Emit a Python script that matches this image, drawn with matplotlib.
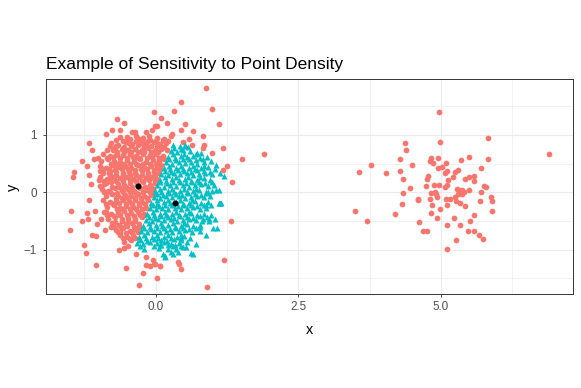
import matplotlib
matplotlib.use("Agg")
import matplotlib.pyplot as plt

plt.rcParams['font.family'] = ['Liberation Sans', 'DejaVu Sans']

# cluster 1 (red circles): dense blob on the left + the sparse group on the right
red_points = [
    # scattered points around the left blob
    (-0.04, 1.39), (0.09, 1.30), (-0.68, 1.27), (-0.56, 1.20), (-0.87, 1.02), (-0.76, 1.09),
    (-0.62, 1.09), (-0.51, 0.96), (-0.41, 1.05), (-0.36, 1.04), (-1.17, 0.86), (-1.11, 0.73),
    (-1.02, 0.59), (-1.09, 0.57), (-1.29, 0.54), (-1.44, 0.36), (-1.46, 0.27), (-1.20, 0.45),
    (-1.17, 0.30), (-0.98, 0.37), (-1.14, 0.15), (-0.87, 0.16), (-0.97, 0.11), (-0.75, 0.74),
    (-0.69, 0.64), (-0.47, 0.86), (-0.30, 0.92), (-0.18, 1.05), (-0.07, 1.09), (-0.01, 1.15),
    (-0.21, 0.82), (-0.13, 0.89), (-0.59, 0.48), (-0.71, 0.45), (-0.82, 0.33), (-0.99, 0.22),
    (-0.39, 0.60),
    (-1.49, -0.32), (-1.50, -0.65), (-1.17, -0.14), (-1.20, -0.36), (-1.19, -0.47), (-1.30, -0.50),
    (-1.03, -0.55), (-1.11, -0.74), (-1.05, -0.76), (-1.26, -0.91), (-1.22, -1.06), (-1.04, -1.26),
    (-0.52, -1.32), (-0.29, -1.62), (-0.22, -1.41), (-0.18, -1.26), (-0.11, -1.28), (-0.03, -1.25),
    (0.08, -1.29), (-0.05, -1.17), (-0.34, -1.07), (-0.18, -1.12), (-0.65, -1.00), (-0.56, -0.97),
    (-0.49, -0.93), (-0.62, -0.69), (-0.78, -0.61), (-0.89, -0.65), (-0.96, -0.46), (-0.88, -0.34),
    (-1.06, -0.32), (-0.71, -0.51), (-0.53, -0.57), (-0.42, -0.69),
    (0.88, 1.81), (0.45, 1.57), (0.99, 1.45), (0.32, 1.41), (1.11, 1.19), (0.52, 1.19),
    (0.19, 1.21), (0.44, 1.08), (0.66, 1.07), (0.29, 1.02), (0.83, 0.97), (0.59, 0.92),
    (0.48, 0.88), (0.63, 0.82), (0.85, 0.82), (0.83, 0.77), (1.17, 0.77), (0.98, 0.68),
    (1.52, 0.58), (1.90, 0.67), (1.25, 0.45), (1.18, 0.38), (1.33, 0.18), (0.03, 1.15),
    (1.32, -0.50), (1.20, -1.17), (0.90, -1.64), (0.39, -1.21), (0.41, -1.25), (0.45, -1.33),
    (0.08, -1.28), (0.03, -1.49), (-0.01, -1.25),
    # dense core, left of the split
    (-0.62, 0.96), (-0.48, 0.93), (-0.35, 0.97), (-0.22, 0.94), (-0.12, 0.98), (0.02, 0.95), (0.14, 0.93), (0.26, 0.97),
    (-0.78, 0.86), (-0.66, 0.83), (-0.52, 0.87), (-0.41, 0.84), (-0.28, 0.86), (-0.17, 0.83), (-0.04, 0.87), (0.07, 0.84), (0.18, 0.86),
    (-0.85, 0.74), (-0.72, 0.77), (-0.60, 0.75), (-0.49, 0.73), (-0.37, 0.76), (-0.25, 0.74), (-0.14, 0.77), (-0.02, 0.73), (0.09, 0.76), (0.19, 0.74),
    (-0.92, 0.66), (-0.80, 0.63), (-0.68, 0.67), (-0.57, 0.64), (-0.46, 0.66), (-0.34, 0.63), (-0.22, 0.67), (-0.11, 0.64), (0.00, 0.66), (0.12, 0.63),
    (-0.96, 0.54), (-0.84, 0.57), (-0.73, 0.55), (-0.62, 0.53), (-0.50, 0.56), (-0.39, 0.54), (-0.28, 0.57), (-0.17, 0.53), (-0.05, 0.56), (0.06, 0.54), (0.14, 0.57),
    (-0.98, 0.46), (-0.88, 0.43), (-0.76, 0.47), (-0.65, 0.44), (-0.54, 0.46), (-0.43, 0.43), (-0.31, 0.47), (-0.20, 0.44), (-0.09, 0.46), (0.02, 0.43), (0.10, 0.47),
    (-0.93, 0.34), (-0.81, 0.37), (-0.70, 0.35), (-0.58, 0.33), (-0.47, 0.36), (-0.36, 0.34), (-0.25, 0.37), (-0.14, 0.33), (-0.03, 0.36), (0.06, 0.34),
    (-0.97, 0.26), (-0.86, 0.23), (-0.74, 0.27), (-0.63, 0.24), (-0.52, 0.26), (-0.40, 0.23), (-0.29, 0.27), (-0.18, 0.24), (-0.07, 0.26), (0.03, 0.23),
    (-0.90, 0.14), (-0.79, 0.17), (-0.67, 0.15), (-0.56, 0.13), (-0.45, 0.16), (-0.33, 0.14), (-0.22, 0.17), (-0.11, 0.13), (-0.01, 0.16),
    (-0.95, 0.06), (-0.83, 0.03), (-0.72, 0.07), (-0.60, 0.04), (-0.49, 0.06), (-0.38, 0.03), (-0.27, 0.07), (-0.15, 0.04), (-0.05, 0.06),
    (-0.88, -0.06), (-0.77, -0.03), (-0.66, -0.07), (-0.54, -0.04), (-0.43, -0.06), (-0.32, -0.03), (-0.20, -0.07), (-0.09, -0.04),
    (-0.92, -0.14), (-0.81, -0.17), (-0.69, -0.15), (-0.58, -0.13), (-0.47, -0.16), (-0.36, -0.14), (-0.24, -0.17), (-0.13, -0.13),
    (-0.86, -0.26), (-0.74, -0.23), (-0.63, -0.27), (-0.52, -0.24), (-0.40, -0.26), (-0.29, -0.23), (-0.17, -0.27),
    (-0.90, -0.34), (-0.78, -0.37), (-0.67, -0.35), (-0.55, -0.33), (-0.44, -0.36), (-0.32, -0.34), (-0.21, -0.37),
    (-0.83, -0.46), (-0.71, -0.43), (-0.60, -0.47), (-0.48, -0.44), (-0.37, -0.46), (-0.25, -0.43),
    (-0.76, -0.54), (-0.64, -0.57), (-0.53, -0.55), (-0.41, -0.53), (-0.30, -0.56),
    (-0.70, -0.66), (-0.58, -0.63), (-0.46, -0.67), (-0.35, -0.64),
    (-0.62, -0.74), (-0.50, -0.77), (-0.40, -0.75),
    (-0.55, -0.86), (-0.43, -0.83),
    (-0.68, 0.70), (-0.56, 0.70), (-0.44, 0.70), (-0.32, 0.70), (-0.20, 0.70), (-0.08, 0.70), (0.04, 0.70),
    (-0.78, 0.50), (-0.67, 0.50), (-0.56, 0.50), (-0.45, 0.50), (-0.34, 0.50), (-0.23, 0.50), (-0.11, 0.50), (0.00, 0.50),
    (-0.80, 0.30), (-0.69, 0.30), (-0.57, 0.30), (-0.46, 0.30), (-0.35, 0.30), (-0.24, 0.30), (-0.13, 0.30), (-0.02, 0.30),
    (-0.76, 0.10), (-0.64, 0.10), (-0.53, 0.10), (-0.42, 0.10), (-0.30, 0.10), (-0.19, 0.10), (-0.08, 0.10),
    (-0.70, -0.10), (-0.59, -0.10), (-0.48, -0.10), (-0.37, -0.10), (-0.26, -0.10), (-0.15, -0.10),
    (-0.68, -0.30), (-0.57, -0.30), (-0.46, -0.30), (-0.35, -0.30), (-0.24, -0.30),
    (-0.60, -0.50), (-0.48, -0.50), (-0.37, -0.50),
    (-0.70, 0.91), (-0.58, 0.89), (-0.46, 0.92), (-0.34, 0.90), (-0.23, 0.88), (-0.10, 0.91), (0.01, 0.89), (0.12, 0.91), (0.22, 0.90),
    (-0.80, 0.80), (-0.69, 0.81), (-0.55, 0.79), (-0.43, 0.80), (-0.31, 0.82), (-0.20, 0.79), (-0.08, 0.80), (0.03, 0.81), (0.14, 0.79),
    (-0.86, 0.60), (-0.75, 0.61), (-0.63, 0.59), (-0.51, 0.60), (-0.40, 0.61), (-0.29, 0.59), (-0.16, 0.60), (-0.06, 0.61), (0.06, 0.59),
    (-0.92, 0.40), (-0.82, 0.41), (-0.71, 0.39), (-0.60, 0.40), (-0.48, 0.41), (-0.37, 0.39), (-0.26, 0.40), (-0.15, 0.41), (-0.04, 0.39), (0.07, 0.40),
    (-0.91, 0.20), (-0.80, 0.21), (-0.69, 0.19), (-0.58, 0.20), (-0.46, 0.21), (-0.35, 0.19), (-0.24, 0.20), (-0.12, 0.21), (-0.02, 0.19),
    (-0.91, 0.00), (-0.80, 0.01), (-0.68, -0.01), (-0.57, 0.00), (-0.45, 0.01), (-0.34, -0.01), (-0.22, 0.00), (-0.11, 0.01), (-0.03, -0.01),
    (-0.87, -0.20), (-0.75, -0.21), (-0.64, -0.19), (-0.53, -0.20), (-0.41, -0.21), (-0.30, -0.19), (-0.19, -0.20),
    (-0.85, -0.40), (-0.74, -0.41), (-0.62, -0.39), (-0.50, -0.40), (-0.39, -0.41), (-0.28, -0.39), (-0.21, -0.40),
    (-0.73, -0.60), (-0.61, -0.61), (-0.50, -0.59), (-0.39, -0.60), (-0.29, -0.61),
    (-0.66, -0.70), (-0.53, -0.71), (-0.42, -0.69), (-0.32, -0.70),
    (-0.58, -0.80), (-0.46, -0.81), (-0.36, -0.79),
    # sparse group around x = 5
    (4.96, 1.39), (5.83, 0.95), (6.90, 0.66), (4.37, 0.86), (4.39, 0.74), (4.99, 0.87),
    (4.29, 0.58), (3.78, 0.47), (3.56, 0.36), (4.04, 0.34), (4.50, 0.47), (4.28, 0.37),
    (4.33, 0.23), (4.46, 0.08), (4.33, -0.02), (4.32, -0.21), (4.20, -0.37), (3.50, -0.32),
    (3.70, -0.50), (4.59, -0.12), (4.60, -0.13), (4.61, -0.52), (4.68, -0.68), (4.76, -0.67),
    (5.10, -0.99), (5.26, -0.83), (5.10, -0.57), (5.22, -0.45), (5.34, -0.57), (5.47, -0.68),
    (5.58, -0.68), (5.67, -0.74), (5.73, -0.81), (5.51, -0.50), (5.58, -0.39), (5.90, -0.33),
    (5.89, -0.15), (5.88, -0.09), (5.69, -0.16), (5.71, 0.00), (5.75, 0.11), (5.79, 0.10),
    (5.70, 0.43), (5.82, 0.58), (5.49, 0.62), (5.35, 0.56), (5.43, 0.23), (5.49, 0.26),
    (5.58, 0.29), (5.58, 0.19), (5.50, 0.04), (5.30, 0.39), (5.24, 0.36), (5.21, 0.26),
    (5.11, 0.37), (5.07, 0.34), (5.08, 0.51), (5.01, 0.44), (4.94, 0.42), (4.94, 0.59),
    (4.82, 0.59), (4.81, 0.55), (4.86, 0.51), (4.78, 0.28), (4.76, 0.23), (4.74, 0.11),
    (4.87, 0.12), (4.96, 0.12), (5.12, 0.21), (5.07, 0.10), (5.11, 0.12), (4.83, -0.01),
    (4.90, 0.01), (4.93, -0.08), (4.92, -0.03), (4.80, -0.12), (4.84, -0.23), (4.98, -0.30),
    (4.83, -0.36), (4.93, -0.44), (5.11, -0.22), (5.09, -0.12), (5.15, -0.11), (5.24, -0.09),
    (5.27, -0.15), (5.33, -0.18), (5.43, -0.24), (5.28, 0.05), (5.33, 0.01), (5.37, 0.04),
    (5.29, -0.03), (5.36, -0.03), (5.40, 0.01), (5.32, 0.04),
]

# cluster 2 (teal triangles): right half of the dense blob
teal_points = [
    (1.12, -0.18), (1.05, 0.04), (1.08, -0.62), (1.00, -0.62), (1.03, -0.46), (0.94, -0.46),
    (0.88, -0.75), (0.81, -0.50), (0.77, -0.60), (0.65, -1.07), (0.53, -0.95), (0.45, -0.80),
    (0.39, -1.04), (0.27, -1.04), (0.16, -1.11), (0.22, -0.91), (0.33, -0.91), (0.71, -0.90),
    (0.07, -0.91), (0.91, 0.01), (0.88, -0.22), (1.20, 0.29), (1.14, -0.18), (0.16, -1.13),
    (-0.27, -0.81), (0.52, 0.80), (0.79, 0.69), (1.05, 0.47), (1.11, 0.04),
    (0.30, 0.82), (0.42, 0.80), (0.52, 0.83),
    (0.26, 0.72), (0.37, 0.70), (0.48, 0.73), (0.60, 0.71), (0.72, 0.69),
    (0.22, 0.62), (0.33, 0.60), (0.44, 0.63), (0.55, 0.61), (0.66, 0.63), (0.78, 0.60), (0.90, 0.62),
    (0.18, 0.52), (0.29, 0.50), (0.40, 0.53), (0.51, 0.51), (0.62, 0.53), (0.73, 0.50), (0.85, 0.52), (0.96, 0.54),
    (0.14, 0.42), (0.25, 0.40), (0.36, 0.43), (0.47, 0.41), (0.58, 0.43), (0.69, 0.40), (0.80, 0.42), (0.92, 0.44), (1.03, 0.41),
    (0.10, 0.32), (0.21, 0.30), (0.32, 0.33), (0.43, 0.31), (0.54, 0.33), (0.65, 0.30), (0.76, 0.32), (0.87, 0.34), (0.98, 0.31), (1.12, 0.33),
    (0.07, 0.22), (0.18, 0.20), (0.29, 0.23), (0.40, 0.21), (0.51, 0.23), (0.62, 0.20), (0.73, 0.22), (0.84, 0.24), (0.95, 0.21),
    (0.03, 0.12), (0.14, 0.10), (0.25, 0.13), (0.36, 0.11), (0.47, 0.13), (0.58, 0.10), (0.69, 0.12), (0.80, 0.14), (0.92, 0.11), (1.02, 0.13),
    (-0.01, 0.02), (0.10, 0.00), (0.21, 0.03), (0.32, 0.01), (0.43, 0.03), (0.54, 0.00), (0.65, 0.02), (0.76, 0.04), (0.88, 0.01), (0.99, 0.03),
    (-0.04, -0.08), (0.07, -0.10), (0.18, -0.07), (0.29, -0.09), (0.40, -0.07), (0.51, -0.10), (0.62, -0.08), (0.73, -0.06), (0.84, -0.09), (0.95, -0.07),
    (-0.08, -0.18), (0.03, -0.20), (0.14, -0.17), (0.25, -0.19), (0.36, -0.17), (0.47, -0.20), (0.58, -0.18), (0.69, -0.16), (0.80, -0.19), (0.91, -0.17), (1.10, -0.18),
    (-0.11, -0.28), (0.00, -0.30), (0.11, -0.27), (0.22, -0.29), (0.33, -0.27), (0.44, -0.30), (0.55, -0.28), (0.66, -0.26), (0.77, -0.29), (0.88, -0.27),
    (-0.15, -0.38), (-0.04, -0.40), (0.07, -0.37), (0.18, -0.39), (0.29, -0.37), (0.40, -0.40), (0.51, -0.38), (0.62, -0.36), (0.73, -0.39), (0.84, -0.37), (0.97, -0.40),
    (-0.18, -0.48), (-0.07, -0.50), (0.04, -0.47), (0.15, -0.49), (0.26, -0.47), (0.37, -0.50), (0.48, -0.48), (0.59, -0.46), (0.70, -0.49), (0.82, -0.47), (0.93, -0.50),
    (-0.22, -0.58), (-0.11, -0.60), (0.00, -0.57), (0.11, -0.59), (0.22, -0.57), (0.33, -0.60), (0.44, -0.58), (0.55, -0.56), (0.66, -0.59), (0.77, -0.57),
    (-0.26, -0.68), (-0.15, -0.70), (-0.04, -0.67), (0.07, -0.69), (0.18, -0.67), (0.29, -0.70), (0.40, -0.68), (0.51, -0.66), (0.64, -0.69), (0.78, -0.67),
    (-0.29, -0.78), (-0.18, -0.80), (-0.07, -0.77), (0.04, -0.79), (0.15, -0.77), (0.26, -0.80), (0.37, -0.78), (0.49, -0.76), (0.60, -0.79),
    (-0.33, -0.88), (-0.22, -0.90), (-0.10, -0.87), (0.02, -0.89), (0.14, -0.87), (0.27, -0.90), (0.40, -0.88), (0.55, -0.86),
    (-0.20, -0.98), (0.05, -0.97), (0.22, -0.99), (0.36, -0.98), (0.48, -0.96),
    (0.13, -1.08), (0.30, -1.07), (0.62, -1.06),
    (0.30, 0.66), (0.50, 0.66), (0.70, 0.66),
    (0.24, 0.46), (0.45, 0.46), (0.65, 0.46), (0.85, 0.46),
    (0.16, 0.26), (0.35, 0.26), (0.56, 0.26), (0.78, 0.26),
    (0.08, 0.06), (0.28, 0.06), (0.50, 0.06), (0.70, 0.06),
    (0.02, -0.14), (0.22, -0.14), (0.42, -0.14), (0.64, -0.14),
    (-0.05, -0.34), (0.16, -0.34), (0.36, -0.34), (0.58, -0.34),
    (-0.12, -0.54), (0.10, -0.54), (0.30, -0.54), (0.50, -0.54),
    (-0.20, -0.74), (0.02, -0.74), (0.22, -0.74), (0.44, -0.74),
    (0.32, 0.77), (0.45, 0.76), (0.57, 0.78),
    (0.24, 0.57), (0.36, 0.56), (0.47, 0.58), (0.58, 0.57), (0.70, 0.56), (0.82, 0.58),
    (0.16, 0.37), (0.27, 0.36), (0.39, 0.38), (0.50, 0.37), (0.61, 0.36), (0.72, 0.38), (0.84, 0.37), (0.95, 0.36),
    (0.08, 0.17), (0.20, 0.16), (0.31, 0.18), (0.42, 0.17), (0.53, 0.16), (0.64, 0.18), (0.75, 0.17), (0.87, 0.16), (0.98, 0.18),
    (0.02, -0.03), (0.13, -0.04), (0.24, -0.02), (0.35, -0.03), (0.46, -0.04), (0.57, -0.02), (0.68, -0.03), (0.79, -0.04), (0.90, -0.02),
    (-0.05, -0.23), (0.06, -0.24), (0.17, -0.22), (0.28, -0.23), (0.39, -0.24), (0.50, -0.22), (0.61, -0.23), (0.72, -0.24), (0.84, -0.22), (0.96, -0.23),
    (-0.12, -0.43), (-0.01, -0.44), (0.10, -0.42), (0.21, -0.43), (0.32, -0.44), (0.43, -0.42), (0.54, -0.43), (0.65, -0.44), (0.77, -0.42), (0.89, -0.43),
    (-0.20, -0.63), (-0.09, -0.64), (0.03, -0.62), (0.14, -0.63), (0.25, -0.64), (0.36, -0.62), (0.47, -0.63), (0.59, -0.64), (0.71, -0.62),
    (-0.27, -0.83), (-0.15, -0.84), (-0.03, -0.82), (0.09, -0.83), (0.20, -0.84), (0.32, -0.82), (0.45, -0.83),
    (-0.28, -0.93), (-0.04, -0.94), (0.10, -0.92), (0.30, -0.93), (0.44, -0.94),
]

# cluster centres (black dots)
center_x = [-0.32, 0.34]
center_y = [0.115, -0.19]

x_ticks = [0.0, 2.5, 5.0]
x_tick_labels = ["0.0", "2.5", "5.0"]
y_ticks = [-1, 0, 1]
y_tick_labels = ["\u22121", "0", "1"]

red_x = [p[0] for p in red_points]
red_y = [p[1] for p in red_points]
teal_x = [p[0] for p in teal_points]
teal_y = [p[1] for p in teal_points]

W, H = 581, 388
fig = plt.figure(figsize=(W / 100, H / 100), dpi=100)
# panel box in pixels: left 45.7, right 573.3, top 79, bottom 294
ax = fig.add_axes([45.7 / W, (H - 294) / H, (573.3 - 45.7) / W, (294 - 79) / H])

ax.scatter(red_x, red_y, s=17, c="#F8766D", marker="o", linewidths=0, zorder=3)
ax.scatter(teal_x, teal_y, s=19, c="#00BFC4", marker="^", linewidths=0, zorder=3)
ax.scatter(center_x, center_y, s=19, c="black", marker="o", linewidths=0, zorder=4)

ax.set_xlim(-1.93, 7.32)
ax.set_ylim(-1.77, 1.97)

# theme_bw look
ax.set_xticks(x_ticks)
ax.set_xticklabels(x_tick_labels)
ax.set_yticks(y_ticks)
ax.set_yticklabels(y_tick_labels)
ax.set_xticks([-1.25, 1.25, 3.75, 6.25], minor=True)
ax.set_yticks([-1.5, -0.5, 0.5, 1.5], minor=True)
ax.grid(which="major", color="#EBEBEB", linewidth=0.85, zorder=0)
ax.grid(which="minor", color="#EBEBEB", linewidth=0.45, zorder=0)
ax.set_axisbelow(True)
ax.tick_params(which="major", length=2.2, width=0.6, color="#333333",
               labelsize=8.35, labelcolor="#4D4D4D")
ax.tick_params(axis="x", pad=3.2)
ax.tick_params(axis="y", pad=4.0)
ax.tick_params(which="minor", length=0)
for sp in ax.spines.values():
    sp.set_color("#333333")
    sp.set_linewidth(0.7)

fig.text(309.5 / W, 1 - 330.5 / H, "x", ha="center", va="center", fontsize=10.4)
fig.text(13.3 / W, 1 - 187 / H, "y", ha="center", va="center", fontsize=10.4, rotation=90)
fig.text(45.7 / W, 1 - 69.3 / H, "Example of Sensitivity to Point Density",
         ha="left", va="baseline", fontsize=12.5)

fig.savefig("out.png", dpi=100)
